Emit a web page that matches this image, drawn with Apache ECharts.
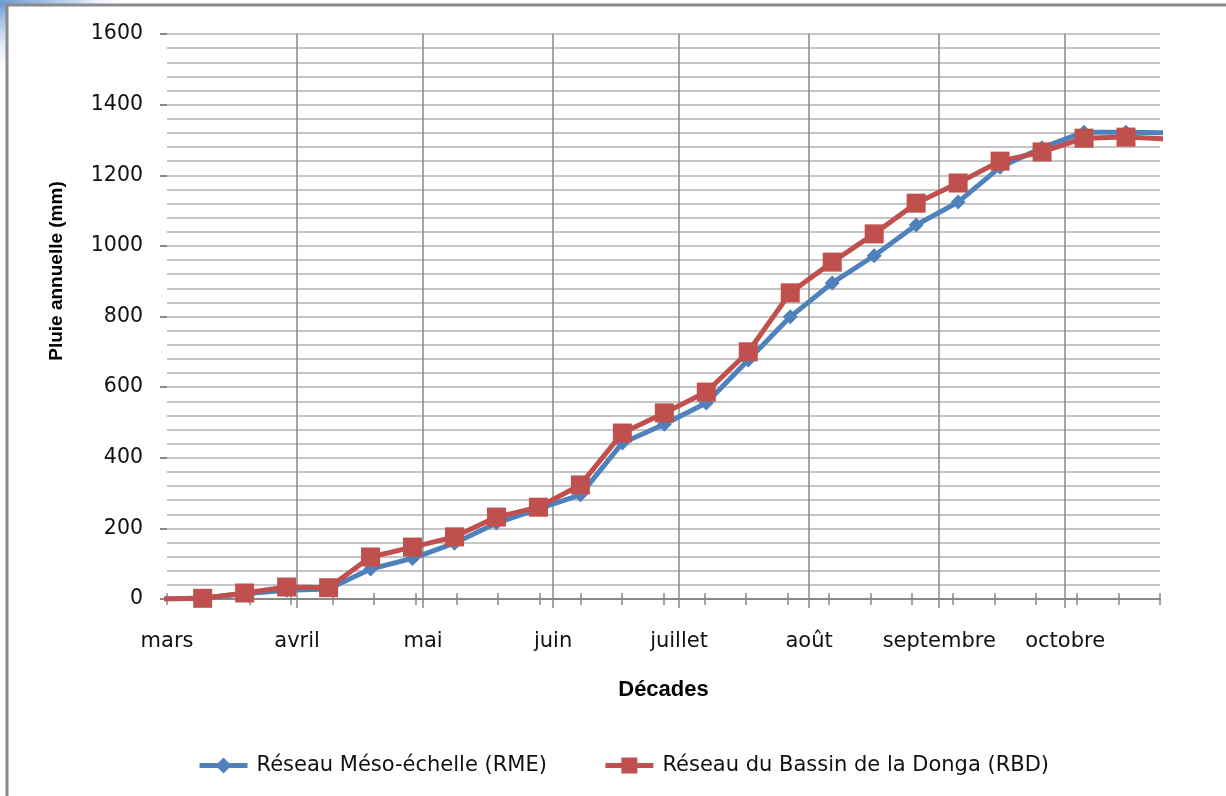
<!DOCTYPE html>
<html>
<head>
<meta charset="utf-8">
<script src="https://cdn.jsdelivr.net/npm/echarts@6/dist/echarts.min.js"></script>
<style>
html,body{margin:0;padding:0;background:#fff;}
#c{width:1226px;height:796px;}
</style>
</head>
<body>
<div id="c"></div>
<script>
// Days since 1 March for each décade point (first and last lie just outside the visible range)
const decadeDays = [-1.5, 8.5, 18.5, 28.5, 38.5, 48.5, 58.5, 68.5, 78.5, 88.5, 98.5, 108.5, 118.5, 128.5, 138.5, 148.5, 158.5, 168.5, 178.5, 188.5, 198.5, 208.5, 218.5, 228.5, 238.5];
// Cumulative rainfall (mm)
const rmeValues = [0, 3, 15, 25, 28, 85, 115, 158, 215, 255, 295, 442, 495, 555, 677, 799, 895, 972, 1059, 1124, 1223, 1278, 1322, 1322, 1320];
const rbdValues = [0, 2, 17, 34, 32, 119, 147, 176, 232, 260, 323, 470, 527, 586, 700, 867, 954, 1034, 1121, 1178, 1240, 1266, 1305, 1308, 1303];
// Month axis labels (start day since 1 March)
const monthNames = ['mars', 'avril', 'mai', 'juin', 'juillet', 'août', 'septembre', 'octobre'];
const monthStarts = [0, 31, 61, 92, 122, 153, 184, 214];
const yTicks = [0, 200, 400, 600, 800, 1000, 1200, 1400, 1600];

const FONT = '"DejaVu Sans", sans-serif';
const BOLD_FONT = '"Liberation Sans", Arial, sans-serif';
const X_MAX = 236.6;
const TICK_STEP = X_MAX / 24;

const chart = echarts.init(document.getElementById('c'), null, {renderer: 'canvas'});

const mk = (vals) => decadeDays.map((d, i) => [d, vals[i]]);

const option = {
  animation: false,
  backgroundColor: '#ffffff',
  textStyle: {fontFamily: FONT},
  grid: {left: 167, right: 66, top: 34, bottom: 197, containLabel: false},
  graphic: [
    {type: 'rect', left: 0, top: 0, z: -10, shape: {width: 8, height: 80},
     style: {fill: new echarts.graphic.LinearGradient(0, 0, 0, 1, [{offset: 0, color: '#5f8fcf'}, {offset: 1, color: 'rgba(255,255,255,0)'}])}},
    {type: 'rect', left: 0, top: 0, z: -10, shape: {width: 130, height: 5},
     style: {fill: new echarts.graphic.LinearGradient(0, 0, 1, 0, [{offset: 0, color: '#6f9bd4'}, {offset: 0.6, color: '#c9dbf0'}, {offset: 1, color: 'rgba(255,255,255,0)'}])}},
    {type: 'rect', z: -5, shape: {x: 7, y: 5, width: 1400, height: 1000},
     style: {fill: 'none', stroke: '#8a8a8a', lineWidth: 3}},
    {type: 'text', x: 57, y: 271, rotation: Math.PI / 2, z: 10,
     style: {text: 'Pluie annuelle (mm)', fill: '#000', font: 'bold 19px ' + BOLD_FONT, align: 'center', verticalAlign: 'middle'}}
  ],
  legend: {
    left: 192, top: 750, itemWidth: 48, itemHeight: 20, itemGap: 56,
    lineStyle: {width: 5},
    textStyle: {fontSize: 21, color: '#111', fontFamily: FONT, padding: [0, 0, 0, 4]},
    data: ['Réseau Méso-échelle (RME)', 'Réseau du Bassin de la Donga (RBD)']
  },
  xAxis: [
    { // minor décade ticks (outside) + axis line
      type: 'value', min: 0, max: X_MAX, interval: TICK_STEP,
      axisLine: {show: true, lineStyle: {color: '#888', width: 2}},
      axisTick: {show: true, length: 6, lineStyle: {color: '#888', width: 1.5}},
      axisLabel: {show: false}, splitLine: {show: false},
      name: 'Décades', nameLocation: 'middle', nameGap: 80,
      nameTextStyle: {fontSize: 22, fontWeight: 'bold', color: '#000', fontFamily: BOLD_FONT}
    },
    { // minor décade ticks (inside)
      type: 'value', min: 0, max: X_MAX, interval: TICK_STEP, position: 'bottom',
      axisLine: {show: false},
      axisTick: {show: true, inside: true, length: 6, lineStyle: {color: '#888', width: 1.5}},
      axisLabel: {show: false}, splitLine: {show: false}
    },
    { // month grid lines and labels
      type: 'value', min: 0, max: X_MAX, position: 'bottom',
      axisLine: {show: false},
      axisTick: {show: true, length: 9, customValues: monthStarts.slice(1), lineStyle: {color: '#888', width: 1.5}},
      splitLine: {show: true, lineStyle: {color: '#888', width: 1.5}},
      axisLabel: {
        show: true, customValues: monthStarts, margin: 32, fontSize: 21, color: '#111', fontFamily: FONT,
        formatter: (v) => { const i = monthStarts.indexOf(Math.round(v)); return i >= 0 ? monthNames[i] : ''; }
      }
    }
  ],
  yAxis: {
    type: 'value', min: 0, max: 1600, interval: 200,
    axisLine: {show: false},
    axisTick: {show: true, length: 7, lineStyle: {color: '#888', width: 2}},
    axisLabel: {margin: 24, fontSize: 20.5, color: '#111', fontFamily: FONT,
      formatter: (v) => yTicks.indexOf(v) >= 0 ? String(v) : ''},
    splitLine: {show: true, lineStyle: {color: '#b3b3b3', width: 1.5}},
    minorTick: {show: false, splitNumber: 5},
    minorSplitLine: {show: true, lineStyle: {color: '#b3b3b3', width: 1.5}}
  },
  series: [
    {
      name: 'Réseau Méso-échelle (RME)', type: 'line', xAxisIndex: 0, clip: true,
      data: mk(rmeValues),
      symbol: 'diamond', symbolSize: 15, showAllSymbol: true,
      lineStyle: {color: '#4f81bd', width: 5},
      itemStyle: {color: '#4f81bd'}, z: 3
    },
    {
      name: 'Réseau du Bassin de la Donga (RBD)', type: 'line', xAxisIndex: 0, clip: true,
      data: mk(rbdValues),
      symbol: 'rect', symbolSize: 19, showAllSymbol: true,
      lineStyle: {color: '#c0504d', width: 5},
      itemStyle: {color: '#c0504d'}, z: 4
    }
  ]
};
chart.setOption(option);
</script>
</body>
</html>
